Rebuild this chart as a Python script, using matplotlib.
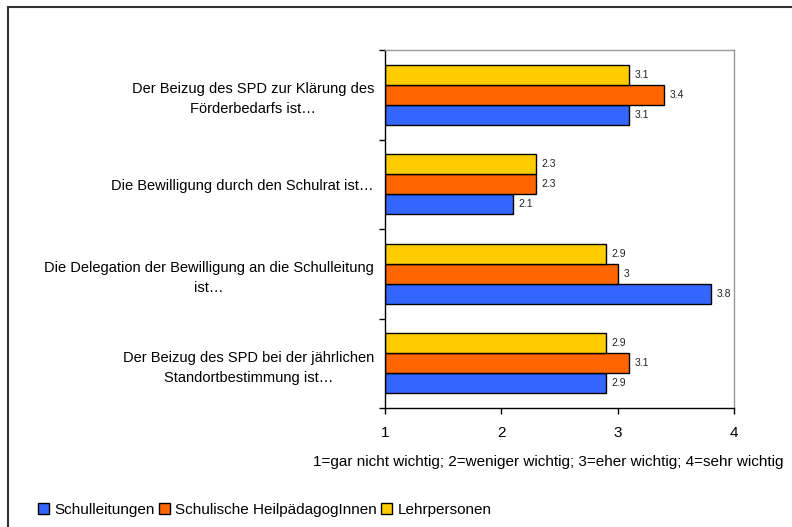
import numpy as np
import matplotlib.pyplot as plt
from matplotlib.patches import Rectangle

plt.rcParams['font.family'] = ['Liberation Sans', 'DejaVu Sans']

# categories, top to bottom as in the chart
categories = [
    "Der Beizug des SPD zur Klärung des\nFörderbedarfs ist…",
    "Die Bewilligung durch den Schulrat ist…",
    "Die Delegation der Bewilligung an die Schulleitung\nist…",
    "Der Beizug des SPD bei der jährlichen\nStandortbestimmung ist…",
]
series = ["Schulleitungen", "Schulische HeilpädagogInnen", "Lehrpersonen"]
schulleitungen = [3.1, 2.1, 3.8, 2.9]
heilpaedagogen = [3.4, 2.3, 3.0, 3.1]
lehrpersonen = [3.1, 2.3, 2.9, 2.9]
colors = ["#3366FF", "#FF6600", "#FFCC00"]
x_ticks = [1, 2, 3, 4]
x_label = "1=gar nicht wichtig; 2=weniger wichtig; 3=eher wichtig; 4=sehr wichtig"

fig = plt.figure(figsize=(7.92, 5.27), dpi=100)
ax = fig.add_axes([385 / 792, 1 - 408 / 527, 349 / 792, 358 / 527])

# outer chart frame (only left/top visible, rest cut off)
fig.patches.append(Rectangle((8 / 792, -0.1), 1.2, 1.1 - 7 / 527,
                             transform=fig.transFigure, fill=False,
                             edgecolor='#333333', linewidth=1.5, zorder=0))

n = len(categories)
ypos = np.arange(n)[::-1]  # first category on top
h = 0.2235
offsets = [-h, 0, h]

for vals, off, col, name in zip([schulleitungen, heilpaedagogen, lehrpersonen],
                                offsets, colors, series):
    ax.barh(ypos + off, np.array(vals) - 1, left=1, height=h, color=col,
            edgecolor='black', linewidth=1.0, label=name)
    for y, v in zip(ypos, vals):
        ax.annotate(f"{v:g}", (v, y + off), xytext=(4, 0), textcoords='offset points',
                    va='center', ha='left', fontsize=7.5, color='#222222')

ax.set_xlim(1, 4)
ax.set_ylim(-0.5, n - 0.5)
ax.set_xticks(x_ticks)
ax.set_xticklabels([str(t) for t in x_ticks], fontsize=11)
ax.tick_params(axis='x', length=4, direction='out', pad=9, width=1)

ax.set_yticks(ypos)
ax.set_yticklabels(categories, fontsize=10.5)
for lab in ax.get_yticklabels():
    lab.set_multialignment('center')
    lab.set_linespacing(1.55)
ax.tick_params(axis='y', which='major', length=0, pad=8)
ax.set_yticks(np.arange(n + 1) - 0.5, minor=True)
ax.tick_params(axis='y', which='minor', length=4, width=1, direction='out')

# x label, shifted a little left so it stays inside the picture
ax.set_xlabel(x_label, fontsize=11)
ax.xaxis.set_label_coords(0.468, -0.13)

for s in ['left', 'bottom']:
    ax.spines[s].set_color('black')
    ax.spines[s].set_linewidth(1.0)
for s in ['top', 'right']:
    ax.spines[s].set_color('#999999')
    ax.spines[s].set_linewidth(1.0)

leg = fig.legend(loc='lower left', bbox_to_anchor=(38 / 792, 1 - 517 / 527), ncol=3,
                 frameon=False, fontsize=11, handlelength=0.7, handleheight=0.7,
                 handletextpad=0.35, columnspacing=0.3, borderpad=0, borderaxespad=0)

fig.savefig("out.png", dpi=100)
